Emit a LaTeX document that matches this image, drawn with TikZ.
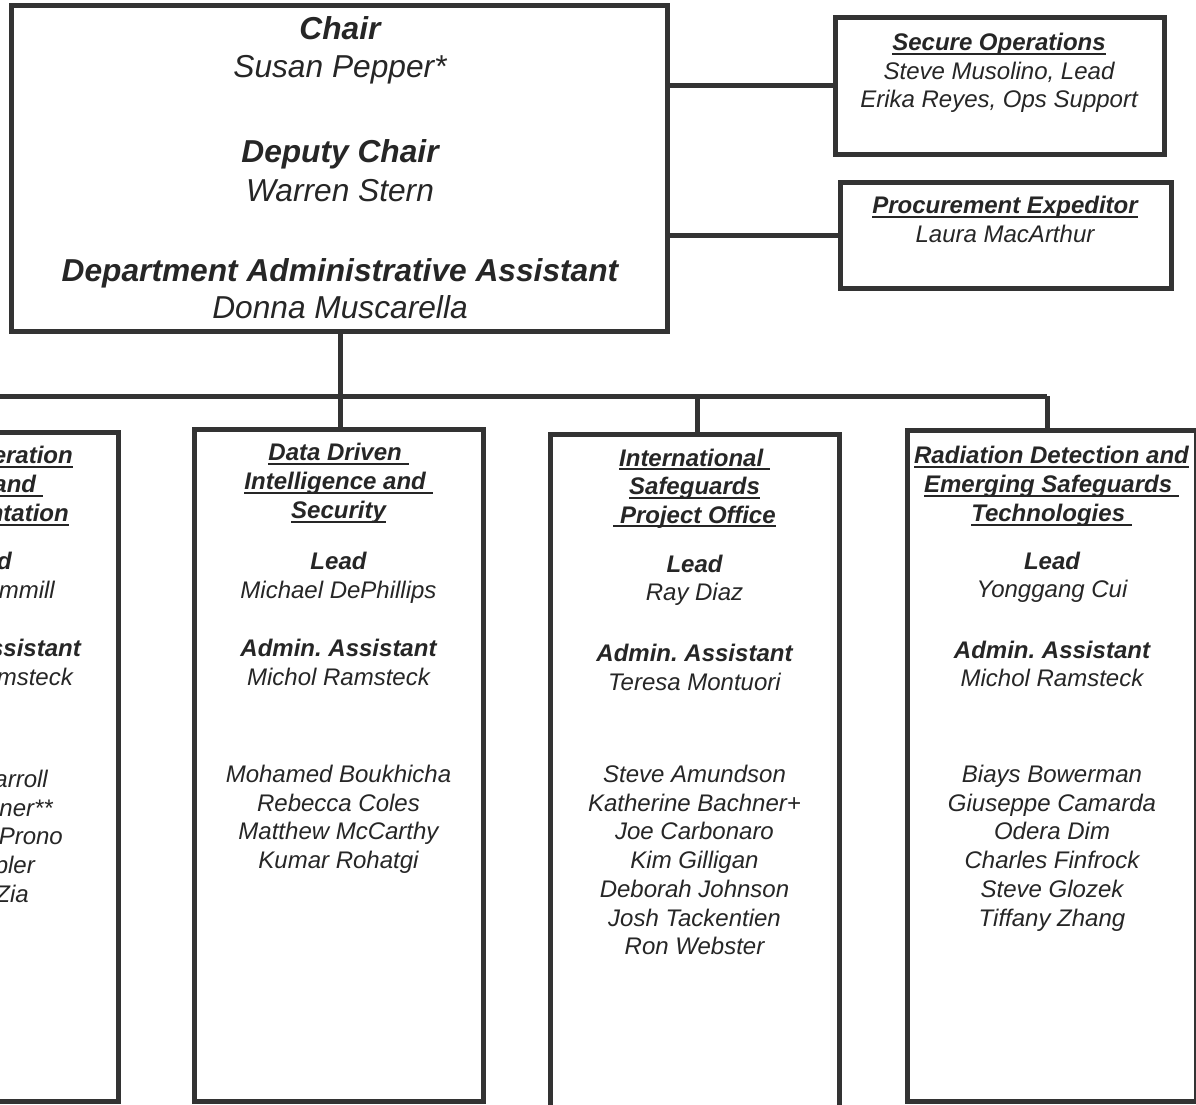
\documentclass[tikz,border=0pt]{standalone}
\usepackage{fontspec}
\setmainfont{Liberation Sans}
\frenchspacing
\definecolor{ln}{HTML}{333333}
\definecolor{tx}{HTML}{262626}
\newcommand\myul[1]{\setbox0=\hbox{#1}\rlap{\rule[-4pt]{\wd0}{1.6pt}}\box0}
\newcommand\subf{\fontsize{24}{28.8}\selectfont}
\newcommand\mainf{\fontsize{31.7}{37}\selectfont}
\begin{document}
\begin{tikzpicture}[x=1pt,y=-1pt,
  box/.style={draw=ln,line width=5pt,inner sep=0pt,outer sep=0pt,fill=white},
  conn/.style={draw=ln,line width=5pt},
  sb/.style={anchor=base,text=tx,inner sep=0pt,font=\subf\itshape},
  ttl/.style={sb,font=\subf\bfseries\itshape},
  sbe/.style={sb,anchor=base east},
  ttle/.style={ttl,anchor=base east},
  mn/.style={anchor=base,text=tx,inner sep=0pt,font=\mainf\itshape},
  mnb/.style={mn,font=\mainf\bfseries\itshape}]
\useasboundingbox (0,0) rectangle (1196,1105);
\fill[white] (0,0) rectangle (1196,1105);
\clip (0,0) rectangle (1196,1105);

% connectors
\coordinate (busL) at (-31,396);
\coordinate (busM) at (340,396);
\coordinate (busI) at (697,396);
\coordinate (busR) at (1047,396);

% boxes
\node[box,minimum width=656pt,minimum height=325pt] (main) at (339,168.5) {};
\node[box,minimum width=329pt,minimum height=136pt] (sec) at (999.5,86) {};
\node[box,minimum width=331pt,minimum height=106pt] (proc) at (1005.5,235) {};
\node[box,minimum width=298pt,minimum height=669pt] (lft) at (-31,767) {};
\node[box,minimum width=289pt,minimum height=672pt] (dd) at (338.5,765) {};
\node[box,minimum width=289pt,minimum height=695.5pt] (intl) at (694.5,782.25) {};
\node[box,minimum width=289.5pt,minimum height=671pt] (rad) at (1051.75,766) {};

\draw[conn] (sec.west -| main.east) -- (sec.west);
\draw[conn] (proc.west -| main.east) -- (proc.west);
\draw[conn] (busM |- main.south) -- (busM);
\draw[conn] (busL) -- (busR);
\draw[conn] (busL) -- (busL |- lft.north);
\draw[conn] (busM) -- (busM |- dd.north);
\draw[conn] (busI) -- (busI |- intl.north);
\draw[conn] (busR) -- (busR |- rad.north);

% main box text
\node[mnb] (mt1) at (340,40) {Chair};
\node[mn]  (mt2) at (340,78) {Susan Pepper*};
\node[mnb] (mt3) at (340,162) {Deputy Chair};
\node[mn]  (mt4) at (340,201) {Warren Stern};
\node[mnb] (mt5) at (340,281) {Department Administrative Assistant};
\node[mn]  (mt6) at (340,318) {Donna Muscarella};

% secure operations
\node[ttl] (st1) at (999,51) {\myul{Secure Operations}};
\node[sb] (st2) at (999,79.5) {Steve Musolino, Lead};
\node[sb] (st3) at (999,108) {Erika Reyes, Ops Support};

% procurement
\node[ttl] (pt1) at (1005,213.5) {\myul{Procurement Expeditor}};
\node[sb] (pt2) at (1005,242) {Laura MacArthur};

% left (clipped) box
\node[ttle] (lt1) at (73,463.5) {\myul{eration}};
\node[ttle] (lt2) at (43,492.5) {\myul{and\ }};
\node[ttle] (lt3) at (69,521.5) {\myul{ntation}};
\node[ttle] (lt4) at (12,569.5) {d};
\node[sbe] (lt5) at (55,598.5) {mmill};
\node[ttle] (lt6) at (81,656.5) {ssistant};
\node[sbe] (lt7) at (73,685.5) {msteck};
\node[sbe] (lt8) at (48,787.5) {arroll};
\node[sbe] (lt9) at (53,816) {nner**};
\node[sbe] (lt10) at (63,844.5) {Prono};
\node[sbe] (lt11) at (35,873.5) {pler};
\node[sbe] (lt12) at (29,902.5) {Zia};

% data driven
\node[ttl] (dt1) at (338.5,460.5) {\myul{Data Driven\ }};
\node[ttl] (dt2) at (338.5,489.5) {\myul{Intelligence and\ }};
\node[ttl] (dt3) at (338.5,518.5) {\myul{Security}};
\node[ttl] (dt4) at (338.5,569.5) {Lead};
\node[sb]  (dt5) at (338.5,598) {Michael DePhillips};
\node[ttl] (dt6) at (338.5,656.5) {Admin. Assistant};
\node[sb]  (dt7) at (338.5,685) {Michol Ramsteck};
\foreach \yy/\ww [count=\i] in {782.5/Mohamed Boukhicha,811.2/Rebecca Coles,839.9/Matthew McCarthy,868.6/Kumar Rohatgi}
  \node[sb] (dn\i) at (338.5,\yy) {\ww};

% international
\node[ttl] (it1) at (694.5,466) {\myul{International\ }};
\node[ttl] (it2) at (694.5,494.5) {\myul{Safeguards}};
\node[ttl] (it3) at (694.5,523) {\myul{\ Project Office}};
\node[ttl] (it4) at (694.5,572.5) {Lead};
\node[sb]  (it5) at (694.5,600.5) {Ray Diaz};
\node[ttl] (it6) at (694.5,661.5) {Admin. Assistant};
\node[sb]  (it7) at (694.5,690.5) {Teresa Montuori};
\foreach \yy/\ww [count=\i] in {782.5/Steve Amundson,811.2/Katherine Bachner+,839.9/Joe Carbonaro,868.6/Kim Gilligan,897.3/Deborah Johnson,926/Josh Tackentien,954.7/Ron Webster}
  \node[sb] (in\i) at (694.5,\yy) {\ww};

% radiation
\node[ttl] (rt1) at (1051.5,463.5) {\myul{Radiation Detection and}};
\node[ttl] (rt2) at (1051.5,492.5) {\myul{Emerging Safeguards\ }};
\node[ttl] (rt3) at (1051.5,521.5) {\myul{Technologies\ }};
\node[ttl] (rt4) at (1052,569.5) {Lead};
\node[sb]  (rt5) at (1052,597.5) {Yonggang Cui};
\node[ttl] (rt6) at (1052,658.5) {Admin. Assistant};
\node[sb]  (rt7) at (1052,686.5) {Michol Ramsteck};
\foreach \yy/\ww [count=\i] in {782.5/Biays Bowerman,811.2/Giuseppe Camarda,839.9/Odera Dim,868.6/Charles Finfrock,897.3/Steve Glozek,926/Tiffany Zhang}
  \node[sb] (rn\i) at (1052,\yy) {\ww};
\end{tikzpicture}
\end{document}
